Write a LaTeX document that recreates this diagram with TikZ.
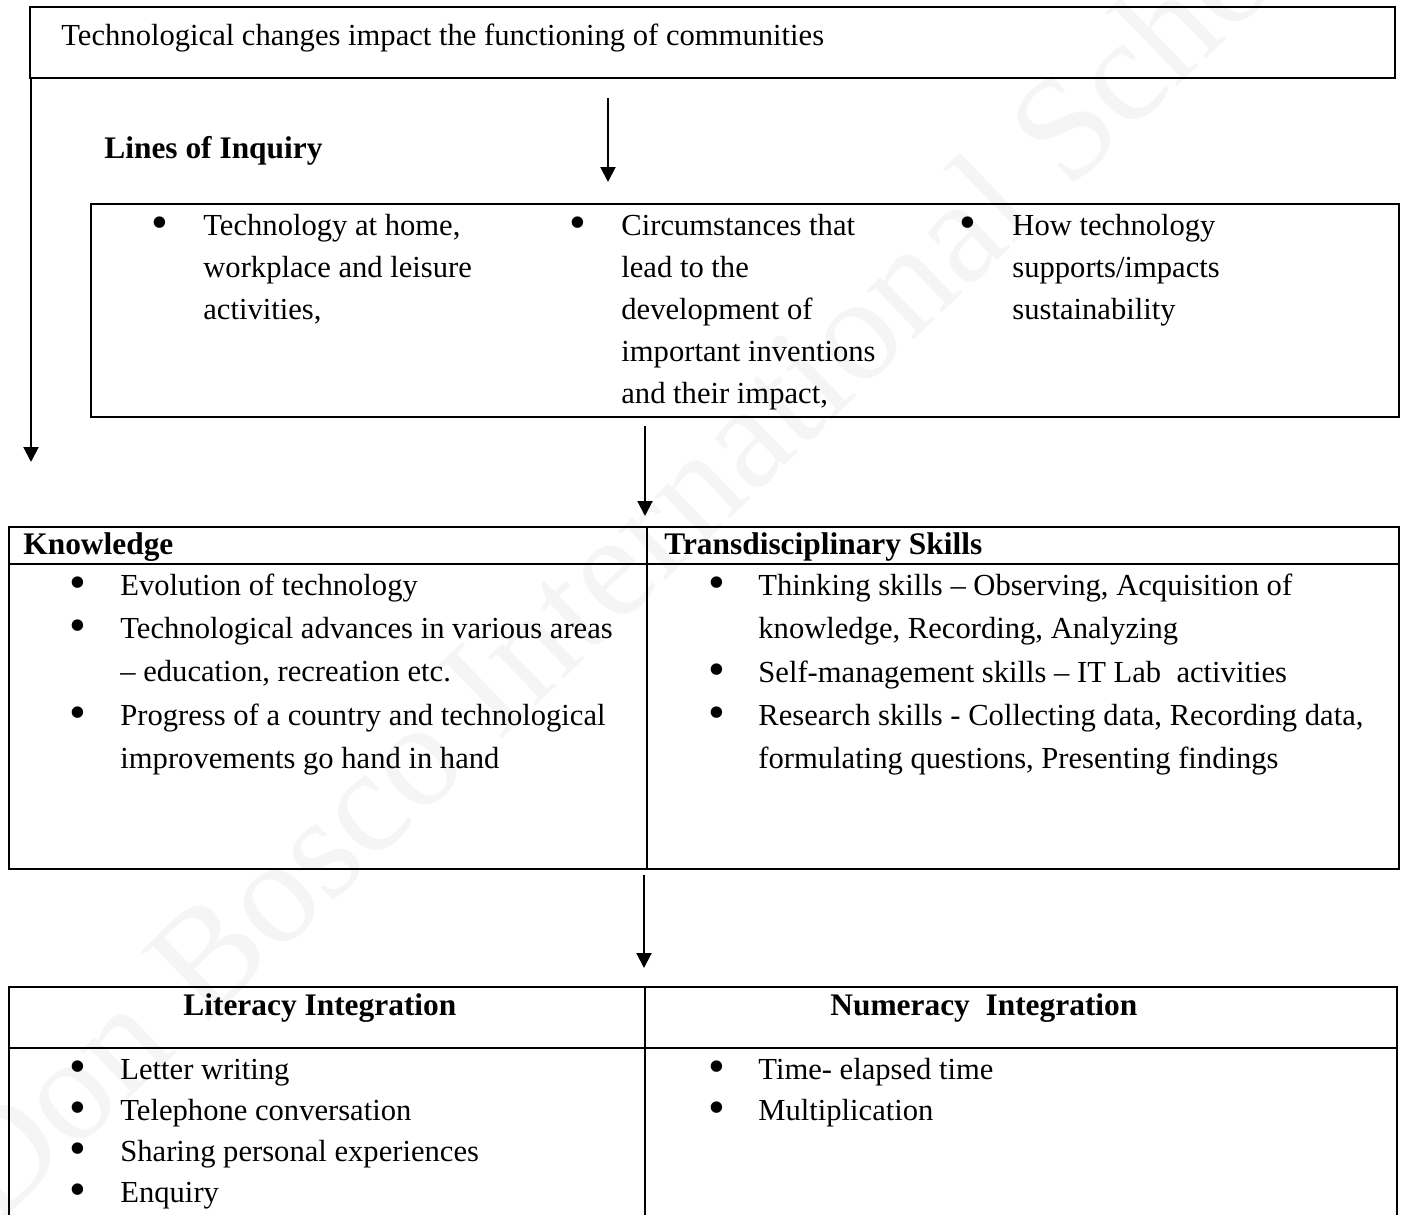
\documentclass[tikz,border=0pt]{standalone}
\usepackage{fontspec}
\setmainfont{Liberation Serif}
\usetikzlibrary{arrows.meta,calc,fit}
\tikzset{
  box/.style={draw, line width=1pt, inner sep=0pt},
  rule/.style={line width=1pt},
  arr/.style={line width=1pt, -{Triangle[width=7.5pt,length=7.5pt]}},
  txt/.style={anchor=base west, inner sep=0pt, font=\fontsize{15.3pt}{21pt}\selectfont},
  hd/.style={anchor=base west, inner sep=0pt, font=\fontsize{15.7pt}{21pt}\selectfont\bfseries},
  bul/.style={anchor=center, inner sep=0pt, font=\fontsize{24pt}{24pt}\selectfont},
  wm/.style={anchor=base west, inner sep=0pt, text=black!4, font=\fontsize{74pt}{74pt}\selectfont}
}
\newcommand\tline[4]{\node[txt] (#1) at (#2,#3) {#4};}
\newcommand\tbul[3]{\node[bul] (#1) at (#2,#3-7) {\textbullet};}
\begin{document}
\begin{tikzpicture}[x=0.5pt,y=-0.5pt]
\useasboundingbox (0,0) rectangle (1403,1215);
% watermark
\node[wm, rotate=44] (wmk) at (-5,1228) {Don Bosco International School};

% boxes
\node[box, fit={(30,7) (1395,78)}] (top) {};
\node[box, fit={(91,204) (1399,417)}] (loi) {};
\node[box, fit={(9,527) (1399,869)}] (know) {};
\node[box, fit={(9,987) (1397,1240)}] (integ) {};
\draw[rule] (9,564) -- (1399,564);
\draw[rule] (647,527) -- (647,869);
\draw[rule] (9,1048) -- (1397,1048);
\draw[rule] (645,987) -- (645,1240);

% connectors
\coordinate (leftend) at (31,462);
\coordinate (xa) at (608,0);
\coordinate (xb) at (645,0);
\coordinate (xc) at (644,0);
\draw[arr] (top.south west -| leftend) -- (leftend);
\draw[arr, shorten <=9.5pt, shorten >=10.5pt] (top.south -| xa) -- (loi.north -| xa);
\draw[arr, shorten <=4pt, shorten >=5pt] (loi.south -| xb) -- (know.north -| xb);
\draw[arr, shorten <=2.5pt, shorten >=9pt] (know.south -| xc) -- (integ.north -| xc);

% texts
\tline{t0}{61}{45}{Technological changes impact the functioning of communities}
\node[hd] (loih) at (104,158) {Lines of Inquiry};

\tbul{b1}{160}{235}
\tline{c1a}{203}{235}{Technology at home,}
\tline{c1b}{203}{277}{workplace and leisure}
\tline{c1c}{203}{319}{activities,}
\tbul{b2}{578}{235}
\tline{c2a}{621}{235}{Circumstances that}
\tline{c2b}{621}{277}{lead to the}
\tline{c2c}{621}{319}{development of}
\tline{c2d}{621}{361}{important inventions}
\tline{c2e}{621}{403}{and their impact,}
\tbul{b3}{968}{235}
\tline{c3a}{1012}{235}{How technology}
\tline{c3b}{1012}{277}{supports/impacts}
\tline{c3c}{1012}{319}{sustainability}

\node[hd] (kh) at (23,554) {Knowledge};
\node[hd] (th) at (664,554) {Transdisciplinary Skills};
\tbul{kb1}{78}{595}
\tline{k1}{120}{595}{Evolution of technology}
\tbul{kb2}{78}{638}
\tline{k2}{120}{638}{Technological advances in various areas}
\tline{k3}{120}{681}{– education, recreation etc.}
\tbul{kb3}{78}{725}
\tline{k4}{120}{725}{Progress of a country and technological}
\tline{k5}{120}{768}{improvements go hand in hand}

\tbul{sb1}{717}{595}
\tline{s1}{758}{595}{Thinking skills – Observing, Acquisition of}
\tline{s2}{758}{638}{knowledge, Recording, Analyzing}
\tbul{sb2}{717}{682}
\tline{s3}{758}{682}{Self-management skills – IT Lab\ \ activities}
\tbul{sb3}{717}{725}
\tline{s4}{758}{725}{Research skills - Collecting data, Recording data,}
\tline{s5}{758}{768}{formulating questions, Presenting findings}

\node[hd] (lh) at (183,1015) {Literacy Integration};
\node[hd] (nh) at (830,1015) {Numeracy\ \ Integration};
\tbul{lb1}{78}{1079}
\tline{l1}{120}{1079}{Letter writing}
\tbul{lb2}{78}{1120}
\tline{l2}{120}{1120}{Telephone conversation}
\tbul{lb3}{78}{1161}
\tline{l3}{120}{1161}{Sharing personal experiences}
\tbul{lb4}{78}{1202}
\tline{l4}{120}{1202}{Enquiry}
\tbul{nb1}{717}{1079}
\tline{n1}{758}{1079}{Time- elapsed time}
\tbul{nb2}{717}{1120}
\tline{n2}{758}{1120}{Multiplication}
\end{tikzpicture}
\end{document}
